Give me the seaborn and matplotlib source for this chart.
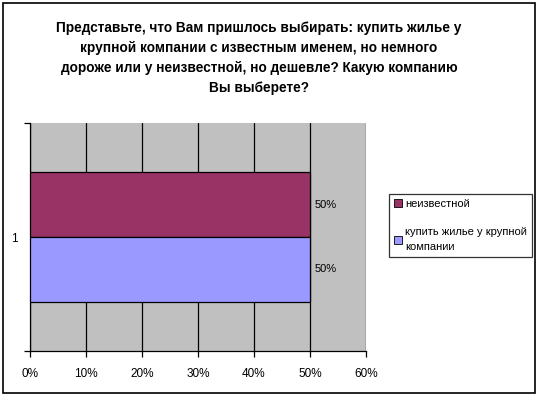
import matplotlib
matplotlib.use("Agg")
import matplotlib.pyplot as plt
import matplotlib.patches as mpatches
import numpy as np
import pandas as pd
import seaborn as sns

# survey answers and shares
title = ("Представьте, что Вам пришлось выбирать: купить жилье у\n"
         "крупной компании с известным именем, но немного\n"
         "дороже или у неизвестной, но дешевле? Какую компанию\n"
         "Вы выберете?")
answers = ['неизвестной', 'купить жилье у крупной\nкомпании']
shares = [0.5, 0.5]
category = ['1', '1']
colors = ['#993366', '#9999FF']
x_ticks = [0, 0.1, 0.2, 0.3, 0.4, 0.5, 0.6]

sns.set_style("white")
plt.rcParams['font.family'] = ['Liberation Sans', 'DejaVu Sans']
plt.rcParams['text.color'] = 'black'
plt.rcParams['xtick.color'] = 'black'
plt.rcParams['ytick.color'] = 'black'
plt.rcParams['xtick.bottom'] = True
plt.rcParams['ytick.left'] = True

df = pd.DataFrame({'answer': answers, 'share': shares, 'cat': category})

fig = plt.figure(figsize=(5.39, 3.98), dpi=100)
ax = fig.add_axes([30 / 539, 1 - 351 / 398, 336 / 539, 228 / 398])
ax.set_facecolor('#C0C0C0')

sns.barplot(data=df, x='share', y='cat', hue='answer', hue_order=answers,
            palette=colors, saturation=1, orient='h', width=0.57,
            edgecolor='black', linewidth=0.9, ax=ax, zorder=3)

ax.set_xlim(0, 0.6)
ax.set_xticks(x_ticks)
ax.set_xticklabels([f"{int(round(t * 100))}%" for t in x_ticks], fontsize=8.5)
ax.xaxis.grid(True, color='black', linewidth=0.9, zorder=0)
ax.set_axisbelow(True)
ax.set_yticks([0])
ax.set_yticklabels(['1'], fontsize=8.5)
ax.set_xlabel('')
ax.set_ylabel('')
for side in ['top', 'right']:
    ax.spines[side].set_visible(False)
for side in ['left', 'bottom']:
    ax.spines[side].set_color('black')
    ax.spines[side].set_linewidth(0.9)
ax.tick_params(axis='x', bottom=True, direction='out', length=4, width=0.9,
               color='black', pad=8)
ax.tick_params(axis='y', left=True, length=0, pad=9)
# small ticks at the category edges
ax.set_yticks([-0.5, 0.5], minor=True)
ax.tick_params(axis='y', which='minor', left=True, direction='out', length=4,
               width=0.9, color='black')

for cont in ax.containers:
    ax.bar_label(cont, labels=[f"{int(round(v * 100))}%" for v in cont.datavalues],
                 padding=3, fontsize=8)

leg = ax.legend(loc='upper left', bbox_to_anchor=(389 / 539, 1 - 194 / 398),
                bbox_transform=fig.transFigure, fontsize=8, frameon=True,
                fancybox=False, handlelength=0.7, handleheight=0.7,
                handletextpad=0.3, labelspacing=1.6, borderpad=0.45,
                borderaxespad=0)
leg.get_frame().set_edgecolor('black')
leg.get_frame().set_linewidth(0.9)
for t in leg.get_texts():
    t.set_linespacing(1.7)
for h in leg.legend_handles:
    h.set_edgecolor('black')
    h.set_linewidth(0.6)

fig.text(259 / 539, 1 - 21 / 398, title, ha='center', va='top', fontsize=9.8,
         fontweight='bold', linespacing=1.55)

fig.patches.append(mpatches.Rectangle((3 / 539, 5 / 398), 532 / 539, 390 / 398,
                                      transform=fig.transFigure, fill=False,
                                      edgecolor='black', linewidth=1.2))

fig.savefig('out.png', dpi=100)
